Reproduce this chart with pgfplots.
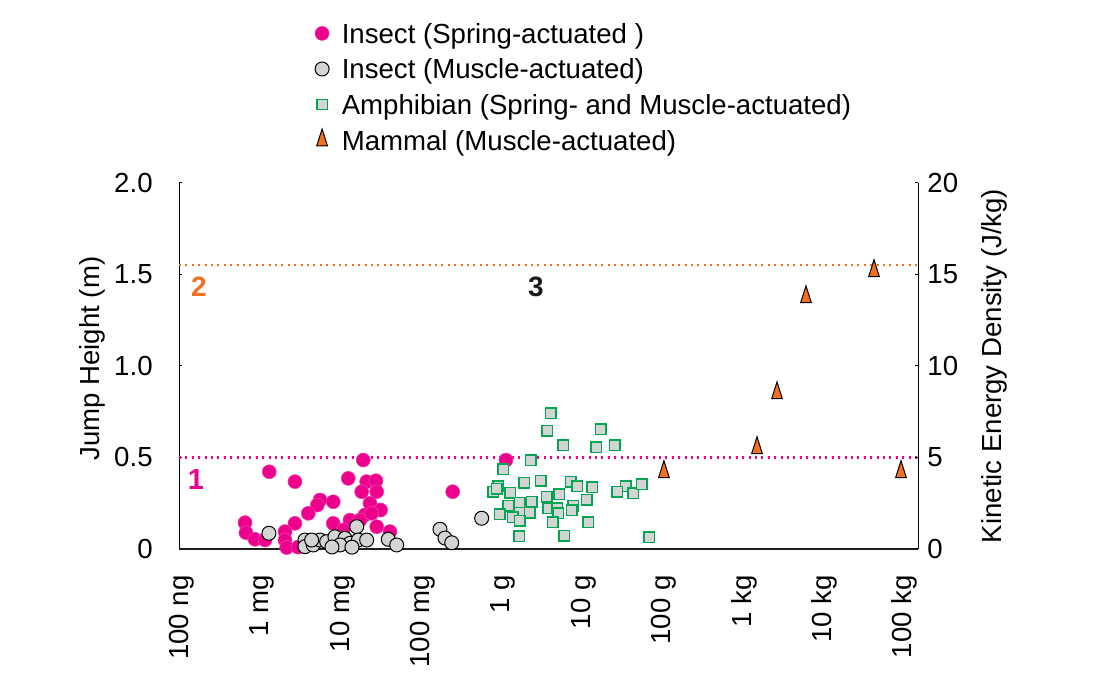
\documentclass[border=0pt]{standalone}
\usepackage{fontspec}
\setmainfont{Liberation Sans}
\usepackage{pgfplots}
\pgfplotsset{compat=1.18}
\definecolor{pinkc}{RGB}{236,0,140}
\definecolor{orangec}{RGB}{243,112,33}
\definecolor{greenc}{RGB}{0,166,81}
\definecolor{grayc}{RGB}{212,212,212}
\begin{document}
\fontsize{13.8}{16}\selectfont
\begin{tikzpicture}[font=\fontsize{13.8}{16}\selectfont]
\useasboundingbox (0,0) rectangle (560pt,340pt);
\begin{axis}[
  at={(89.5pt,65.5pt)}, anchor=south west,
  scale only axis, width=369.5pt, height=183pt,
  xmin=-0.037, xmax=9.166, ymin=0, ymax=2,
  axis x line*=bottom, axis y line*=left,
  x axis line style={line width=1pt, black!88},
  y axis line style={line width=0.5pt, black},
  /pgf/number format/assume math mode=true,
  xtick={0,1,2,3,4,5,6,7,8,9},
  xticklabels={100 ng,1 mg,10 mg,100 mg,1 g,10 g,100 g,1 kg,10 kg,100 kg},
  xtick style={draw=none},
  xticklabel style={rotate=90, anchor=east, inner sep=0pt},
  xticklabel shift=13pt,
  ytick={0,0.5,1,1.5,2},
  yticklabels={0,0.5,1.0,1.5,2.0},
  yticklabel style={anchor=east, inner sep=0pt},
  yticklabel shift=13pt,
  tick align=inside, major tick length=1.5pt,
  ytick style={line width=0.5pt, black},
  ylabel={Jump Height (m)},
  ylabel style={at={(axis description cs:-0.1177,0.52)}, anchor=center},
  legend cell align=left,
  legend style={at={(axis description cs:0.1786,1.4585)}, anchor=north west,
    draw=none, fill=none, inner sep=0pt, row sep=0pt, column sep=0pt,
    nodes={inner xsep=4.5pt, inner ysep=2.4pt, text height=11.45pt, text depth=1.55pt}},
  legend image code/.code={\draw[#1] plot coordinates {(0pt,0pt)}; \path (-5pt,0pt) (5pt,0pt);},
]
\addplot[forget plot, no markers, color=pinkc, draw=pinkc, line width=1.1pt, dash pattern=on 1pt off 2.2pt] coordinates {(-0.037,0.5) (9.166,0.5)};
\addplot[forget plot, no markers, color=orangec, draw=orangec, line width=1.1pt, dash pattern=on 1pt off 2.2pt] coordinates {(-0.037,1.55) (9.166,1.55)};

\addplot[only marks, mark=*, mark size=3.5pt, draw=pinkc!75!white, fill=pinkc, line width=0.3pt] coordinates {
(1.087,0.422) (1.407,0.368) (2.258,0.486) (2.071,0.386) (2.300,0.368) (2.416,0.373)
(2.238,0.313) (2.425,0.313) (1.719,0.268) (1.884,0.258) (1.685,0.240) (2.341,0.250)
(2.474,0.213) (1.573,0.195) (2.279,0.186) (2.092,0.158) (1.884,0.140) (1.407,0.140)
(0.785,0.144) (0.797,0.089) (0.909,0.053) (1.034,0.049) (1.283,0.095) (1.283,0.049)
(1.304,0.008) (1.445,0.010) (2.009,0.104) (2.217,0.158) (2.425,0.122) (2.590,0.095)
(2.362,0.195) (3.371,0.313) (4.035,0.486)
};
\addlegendentry{Insect (Spring-actuated )}

\addplot[only marks, mark=*, mark size=3.5pt, draw=black, fill=grayc, line width=0.5pt] coordinates {
(1.083,0.086) (2.176,0.122) (1.532,0.049) (1.532,0.013) (1.635,0.022) (1.719,0.049)
(1.802,0.040) (1.905,0.067) (2.030,0.058) (2.092,0.031) (2.196,0.049) (2.300,0.049)
(2.569,0.053) (2.674,0.022) (1.615,0.049) (1.968,0.022) (1.868,0.011) (2.117,0.010)
(3.213,0.108) (3.275,0.060) (3.359,0.034) (3.732,0.168)
};
\addlegendentry{Insect (Muscle-actuated)}

\addplot[only marks, mark=square*, mark size=2.6pt, draw=greenc, fill=grayc, line width=0.7pt] coordinates {
(4.595,0.742) (4.549,0.645) (5.218,0.654) (4.748,0.568) (5.156,0.556) (5.392,0.568)
(4.346,0.486) (4.001,0.436) (3.939,0.344) (3.877,0.313) (4.085,0.308) (4.263,0.362)
(4.471,0.373) (4.841,0.368) (4.923,0.344) (5.110,0.337) (5.529,0.344) (5.421,0.313)
(5.620,0.304) (5.725,0.355) (4.209,0.253) (4.355,0.258) (4.542,0.286) (4.699,0.299)
(5.040,0.268) (4.873,0.235) (4.064,0.235) (3.960,0.190) (4.200,0.198) (4.334,0.198)
(4.562,0.222) (4.674,0.222) (4.686,0.195) (4.118,0.173) (4.209,0.155) (4.616,0.146)
(5.060,0.146) (4.200,0.071) (4.761,0.073) (5.819,0.064) (4.853,0.213) (3.920,0.328)
};
\addlegendentry{Amphibian (Spring- and Muscle-actuated)}

\addplot[only marks, mark=triangle*, mark size=5.6pt, mark options={xscale=0.55}, draw=black, fill=orangec, line width=0.5pt] coordinates {
(6.002,0.421) (7.161,0.552) (7.410,0.852) (7.771,1.377) (8.618,1.519) (8.954,0.421)
};
\addlegendentry{Mammal (Muscle-actuated)}

\node[text=pinkc, font=\fontsize{14.5}{16}\selectfont\bfseries] at (axis cs:0.174,0.377) {1};
\node[text=orangec, font=\fontsize{14}{16}\selectfont\bfseries] at (axis cs:0.212,1.432) {2};
\node[text=black!90, font=\fontsize{14}{16}\selectfont\bfseries] at (axis cs:4.408,1.432) {3};
\end{axis}

\begin{axis}[
  at={(89.5pt,65.5pt)}, anchor=south west,
  scale only axis, width=369.5pt, height=183pt,
  xmin=-0.037, xmax=9.166, ymin=0, ymax=20,
  axis x line=none, axis y line*=right,
  y axis line style={line width=0.5pt, black},
  /pgf/number format/assume math mode=true,
  ytick={0,5,10,15,20},
  yticklabel style={anchor=west, inner sep=0pt},
  yticklabel shift=4.5pt,
  tick align=inside, major tick length=1.5pt,
  ytick style={line width=0.5pt, black},
  ylabel={Kinetic Energy Density (J/kg)},
  ylabel style={at={(axis description cs:1.103,0.5)}, anchor=center},
]
\addplot[draw=none, forget plot] coordinates {(0,0)};
\end{axis}
\end{tikzpicture}
\end{document}
